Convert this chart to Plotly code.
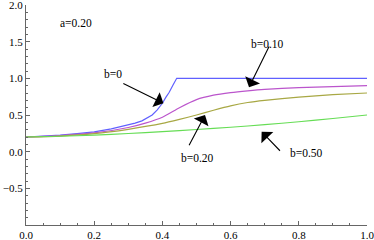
import plotly.graph_objects as go

# b = 0 (blue)
x_b0 = [0.0, 0.05, 0.1, 0.15, 0.2, 0.25, 0.28, 0.3, 0.32, 0.34, 0.36, 0.37, 0.385, 0.40, 0.41, 0.42, 0.43, 0.442, 0.5, 0.7, 1.0]
y_b0 = [0.2, 0.21, 0.225, 0.245, 0.27, 0.31, 0.34, 0.36, 0.39, 0.42, 0.47, 0.50, 0.57, 0.66, 0.74, 0.81, 0.90, 1.0, 1.0, 1.0, 1.0]
# b = 0.10 (magenta)
x_b1 = [0.0, 0.1, 0.2, 0.3, 0.35, 0.4, 0.45, 0.5, 0.55, 0.6, 0.65, 0.7, 0.8, 0.9, 1.0]
y_b1 = [0.2, 0.22, 0.255, 0.33, 0.39, 0.47, 0.60, 0.71, 0.77, 0.805, 0.83, 0.85, 0.873, 0.888, 0.90]
# b = 0.20 (olive)
x_b2 = [0.0, 0.1, 0.2, 0.3, 0.4, 0.45, 0.5, 0.55, 0.6, 0.65, 0.7, 0.8, 0.9, 1.0]
y_b2 = [0.2, 0.213, 0.245, 0.305, 0.385, 0.44, 0.50, 0.565, 0.625, 0.67, 0.70, 0.745, 0.777, 0.80]
# b = 0.50 (green)
x_b5 = [0.0, 0.1, 0.2, 0.3, 0.4, 0.5, 0.6, 0.7, 0.8, 0.9, 1.0]
y_b5 = [0.2, 0.21, 0.225, 0.248, 0.274, 0.302, 0.333, 0.368, 0.408, 0.452, 0.50]

series = [
    (x_b0, y_b0, "#6060ff", "linear"),
    (x_b1, y_b1, "#bb55cc", "spline"),
    (x_b2, y_b2, "#a8a844", "spline"),
    (x_b5, y_b5, "#66dd55", "spline"),
]

x_ticks = [0.0, 0.2, 0.4, 0.6, 0.8, 1.0]
x_ticktext = ["0.0", "0.2", "0.4", "0.6", "0.8", "1.0"]
y_ticks = [-1.0, -0.5, 0.0, 0.5, 1.0, 1.5, 2.0]
y_ticktext = ["", "\u22120.5", "0.0", "0.5", "1.0", "1.5", "2.0"]

# labels: (text, x, y)
labels = [
    ("a=0.20", 0.148, 1.752),
    ("b=0", 0.254, 1.06),
    ("b=0.10", 0.709, 1.469),
    ("b=0.20", 0.503, -0.09),
    ("b=0.50", 0.822, -0.022),
]
# arrows: (tip x, tip y, tail x, tail y)
arrows = [
    (0.403, 0.660, 0.281, 0.941),
    (0.654, 0.879, 0.715, 1.456),
    (0.525, 0.50, 0.476, 0.068),
    (0.691, 0.273, 0.749, -0.008),
]

font = dict(family="'Liberation Serif', 'Times New Roman', serif", size=11.5, color="black")
tick_font = dict(family="'Liberation Serif', 'Times New Roman', serif", size=11, color="black")

fig = go.Figure()
for xs, ys, c, sh in series:
    line = dict(color=c, width=1.2, shape=sh)
    if sh == "spline":
        line["smoothing"] = 0.6
    fig.add_trace(go.Scatter(x=xs, y=ys, mode="lines", line=line,
                             showlegend=False, hoverinfo="skip"))

for t, x, y in labels:
    fig.add_annotation(x=x, y=y, text=t, showarrow=False, font=font, xanchor="center", yanchor="middle")

for tx, ty, ax, ay in arrows:
    fig.add_annotation(x=tx, y=ty, ax=ax, ay=ay, axref="x", ayref="y", text="",
                       showarrow=True, arrowhead=1, arrowsize=2.5, arrowwidth=1.1,
                       arrowcolor="black", standoff=0)

axis_common = dict(showline=True, linecolor="#666666", linewidth=1, ticks="inside",
                   tickcolor="#666666", ticklen=4, tickwidth=1, showgrid=False, zeroline=False,
                   tickfont=tick_font, automargin=False, ticklabeloverflow="allow")
fig.update_xaxes(range=[0, 1.0], tickvals=x_ticks, ticktext=x_ticktext,
                 minor=dict(ticks="inside", ticklen=2, dtick=0.05, tickcolor="#666666", showgrid=False),
                 **axis_common)
fig.update_yaxes(range=[-1, 2], tickvals=y_ticks, ticktext=y_ticktext,
                 minor=dict(ticks="inside", ticklen=2, dtick=0.1, tickcolor="#666666", showgrid=False),
                 **axis_common)

fig.update_layout(width=374, height=240, margin=dict(l=26, r=7, t=5, b=15, autoexpand=False),
                  plot_bgcolor="white", paper_bgcolor="white", font=font)
fig.write_html("out.html", config={"displayModeBar": False},
               post_script="document.body.style.margin='0';document.body.style.padding='0';document.body.style.overflow='hidden';")
